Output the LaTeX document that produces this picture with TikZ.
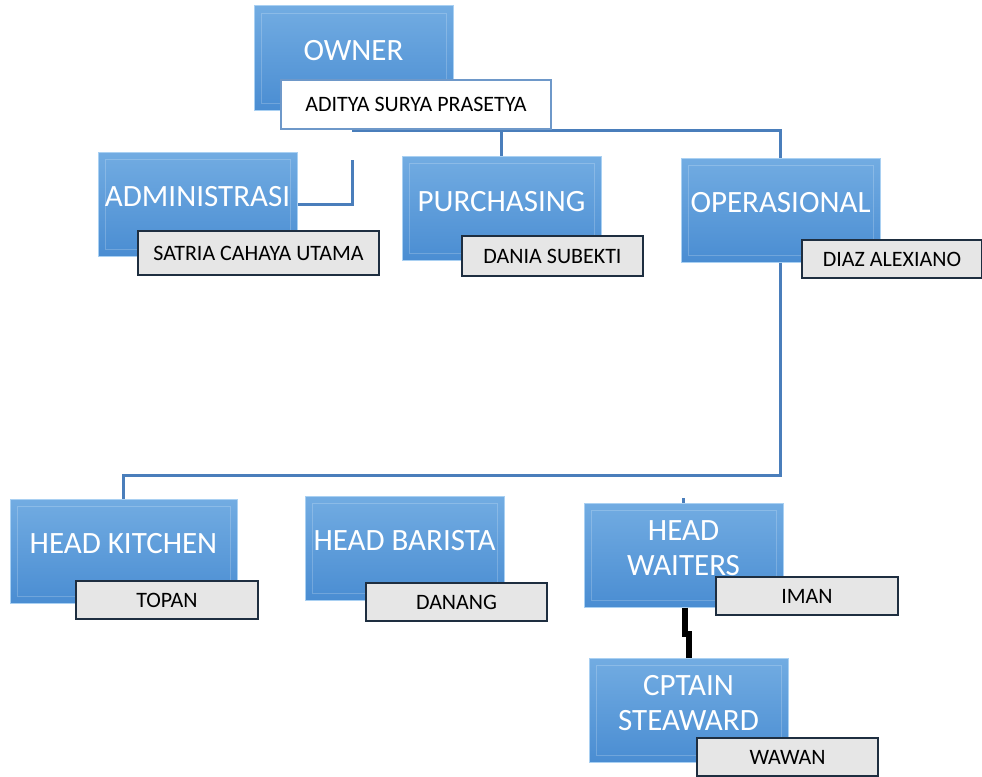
\documentclass[tikz,border=0pt]{standalone}
\usepackage{fontspec}
\setmainfont{Carlito}
\definecolor{boxtop}{HTML}{72ACE2}
\definecolor{boxbot}{HTML}{4A8DD2}
\definecolor{boxrim}{HTML}{A9D0F2}
\definecolor{linkblue}{HTML}{4A7EBB}
\definecolor{namegray}{HTML}{E6E6E6}
\definecolor{nameedge}{HTML}{1E2E40}
\tikzset{
  titlebox/.style={rectangle, minimum width=199pt, minimum height=104pt,
    top color=boxtop, bottom color=boxbot, draw=boxrim, line width=1pt,
    path picture={\draw[white, opacity=0.2, line width=0.8pt]
      ([shift={(7pt,-7pt)}]path picture bounding box.north west) rectangle
      ([shift={(-7pt,7pt)}]path picture bounding box.south east);}},
  titletext/.style={text=white, font=\fontsize{31}{35}\selectfont, align=center,
    inner sep=0pt, yshift=7pt},
  namebox/.style={rectangle, minimum width=181pt, minimum height=38pt,
    fill=namegray, draw=nameedge, line width=1.2pt, inner sep=0pt,
    font=\fontsize{22}{26}\selectfont},
  link/.style={draw=linkblue, line width=3pt}
}
\begin{document}
\begin{tikzpicture}[x=1pt, y=-1pt]
  \useasboundingbox (0,0) rectangle (982,776);
  % boxes
  \node[titlebox, label={[titletext]center:OWNER}] (owner) at (353.5,58) {};
  \node[titlebox, label={[titletext]center:ADMINISTRASI}] (admin) at (197.5,204) {};
  \node[titlebox, label={[titletext]center:PURCHASING}] (purch) at (501.5,208.5) {};
  \node[titlebox, label={[titletext]center:OPERASIONAL}] (oper) at (780.5,210) {};
  \node[titlebox, minimum width=227pt, label={[titletext]center:HEAD KITCHEN}] (kitchen) at (123.5,551) {};
  \node[titlebox, label={[titletext]center:HEAD BARISTA}] (barista) at (404.5,548) {};
  \node[titlebox, label={[titletext]center:HEAD\\WAITERS}] (waiters) at (683.5,555) {};
  \node[titlebox, label={[titletext]center:CPTAIN\\STEAWARD}] (captain) at (688.5,710) {};
  % connectors
  \coordinate (split) at ([yshift=-20pt]owner.south);
  \coordinate (admtop) at (352,160);
  \coordinate (opdown) at (780.5,475);
  \draw[link] (owner.south) -- (split) -| (oper.north);
  \draw[link] (split) -| (purch.north);
  \draw[link] (admtop) |- (admin.east);
  \draw[link] (oper.south) -- (opdown) -| (kitchen.north);
  \draw[link] (waiters.north) -- ++(0,-5);
  \draw[black, line width=6pt] ([xshift=1.5pt]waiters.south) -- ++(0,26) -| (captain.north);
  % names
  \node[namebox, fill=white, draw=linkblue!80, minimum width=270pt, minimum height=49pt] (ownername) at (416,104.5) {ADITYA SURYA PRASETYA};
  \node[namebox, minimum width=241pt, minimum height=44pt] (adminname) at (258.5,253) {SATRIA CAHAYA UTAMA};
  \node[namebox, minimum height=40pt] (purchname) at (552.5,256) {DANIA SUBEKTI};
  \node[namebox, minimum width=180pt] (opername) at (892,259) {DIAZ ALEXIANO};
  \node[namebox, minimum width=182pt] (kitchenname) at (167,600) {TOPAN};
  \node[namebox] (baristaname) at (456.5,602) {DANANG};
  \node[namebox, minimum width=182pt] (waitersname) at (807,596) {IMAN};
  \node[namebox] (captainname) at (787.5,757) {WAWAN};
\end{tikzpicture}
\end{document}
